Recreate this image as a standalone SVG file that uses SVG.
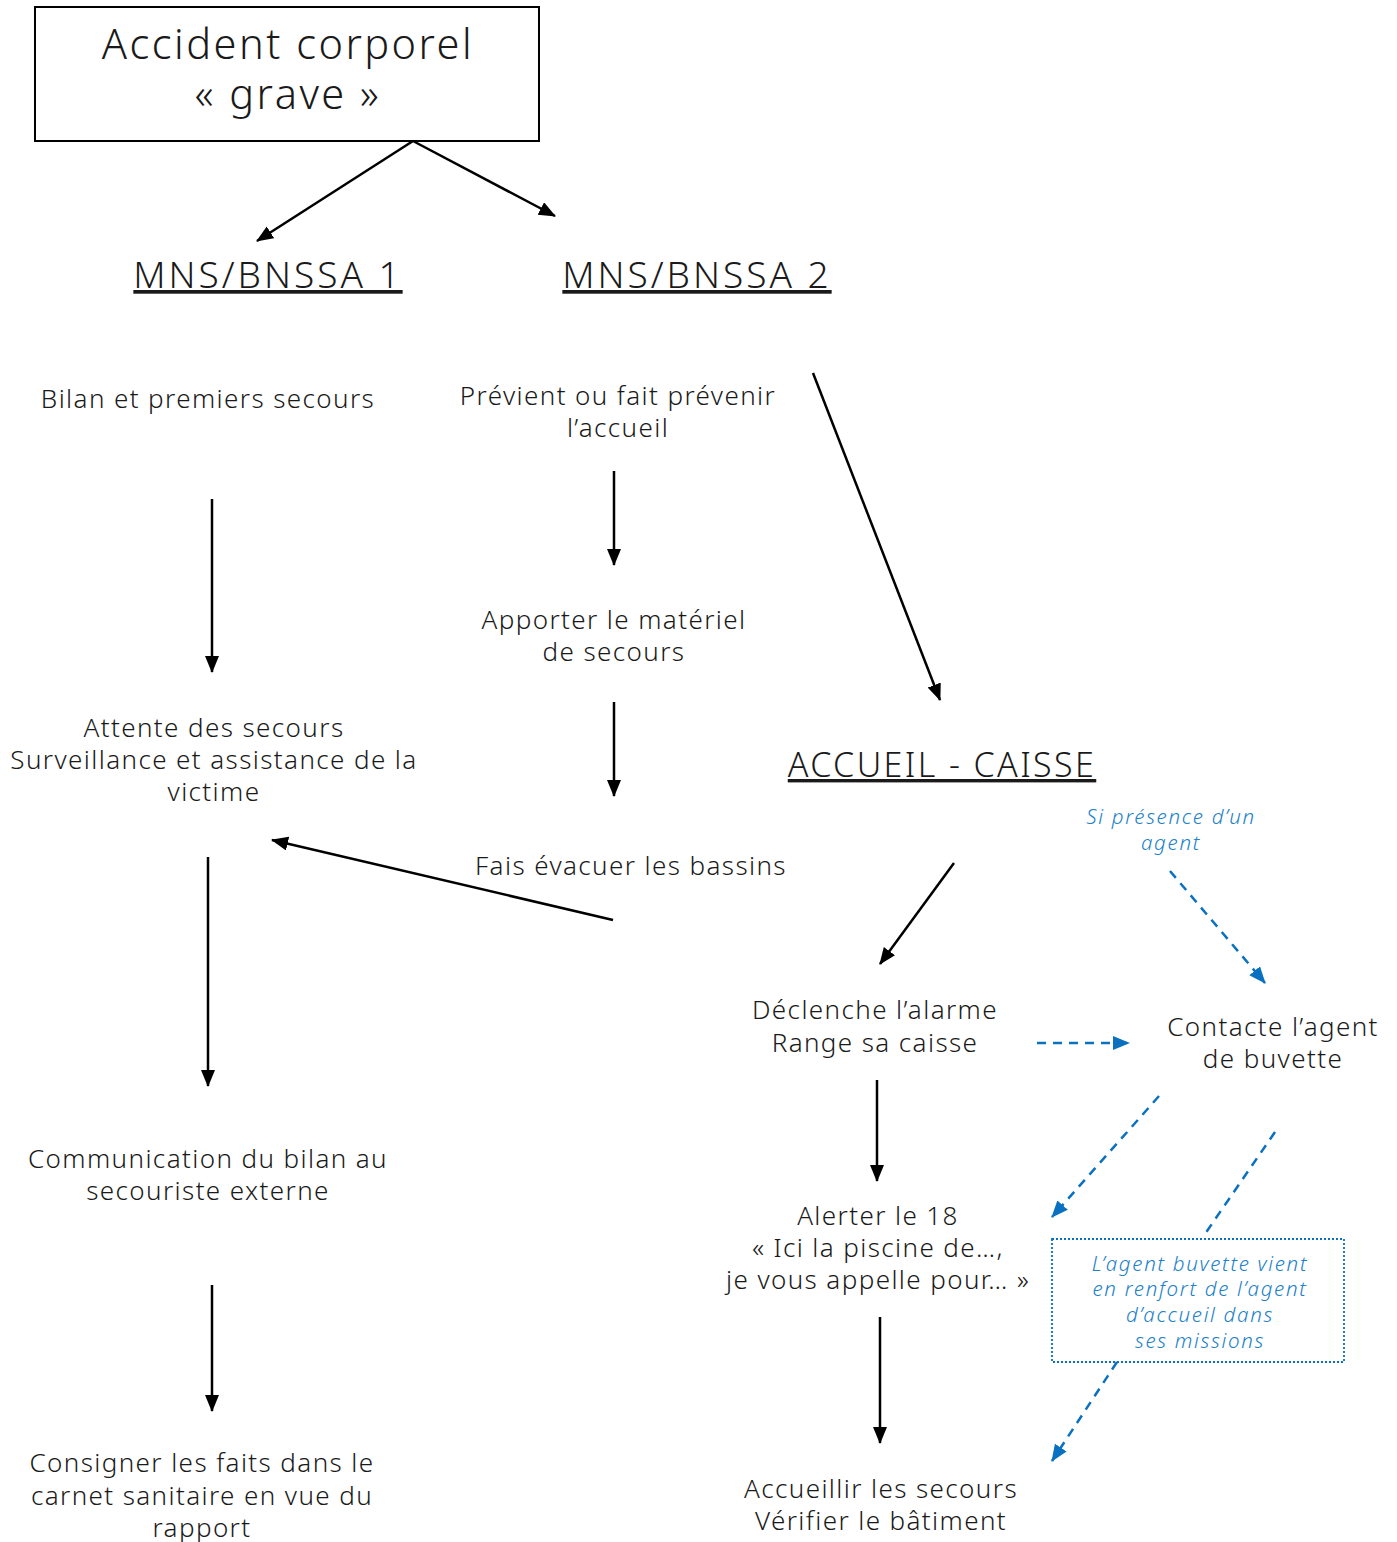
<svg xmlns="http://www.w3.org/2000/svg" width="1397" height="1542" viewBox="0 0 1397 1542">
<style>
text{font-family:"Noto Sans","Open Sans","Liberation Sans",sans-serif;fill:#1a1a1a;text-anchor:middle;font-weight:300}
.t{font-size:26px;letter-spacing:1.4px}
.h{font-size:37px;text-decoration:underline;letter-spacing:3px}
.title{font-size:41.5px;letter-spacing:2.5px}
.b{font-size:20.5px;fill:#2080c8;font-style:italic;letter-spacing:1.7px}
.k{stroke:#000;stroke-width:2.5;fill:none}
.d{stroke:#0a70c0;stroke-width:2.5;fill:none;stroke-dasharray:9 7}
</style>
<defs>
<marker id="ak" markerUnits="userSpaceOnUse" markerWidth="18" markerHeight="16" refX="16" refY="7" orient="auto"><path d="M0,0 L17,7 L0,14 Z" fill="#000"/></marker>
<marker id="ab" markerUnits="userSpaceOnUse" markerWidth="18" markerHeight="16" refX="16" refY="7" orient="auto"><path d="M0,0 L17,7 L0,14 Z" fill="#0a70c0"/></marker>
</defs>
<g id="connectors">
<line class="k" x1="413" y1="141" x2="257" y2="241" marker-end="url(#ak)"/>
<line class="k" x1="413" y1="141" x2="555" y2="216" marker-end="url(#ak)"/>
<line class="k" x1="813" y1="373" x2="940" y2="700" marker-end="url(#ak)"/>
<line class="k" x1="212" y1="499" x2="212" y2="672" marker-end="url(#ak)"/>
<line class="k" x1="614" y1="471" x2="614" y2="565" marker-end="url(#ak)"/>
<line class="k" x1="614" y1="702" x2="614" y2="796" marker-end="url(#ak)"/>
<line class="k" x1="613" y1="920" x2="272" y2="840" marker-end="url(#ak)"/>
<line class="k" x1="208" y1="857" x2="208" y2="1086" marker-end="url(#ak)"/>
<line class="k" x1="954" y1="863" x2="880" y2="964" marker-end="url(#ak)"/>
<line class="k" x1="877" y1="1080" x2="877" y2="1181" marker-end="url(#ak)"/>
<line class="k" x1="212" y1="1285" x2="212" y2="1411" marker-end="url(#ak)"/>
<line class="k" x1="880" y1="1317" x2="880" y2="1443" marker-end="url(#ak)"/>
<line class="d" x1="1170" y1="871" x2="1265" y2="983" marker-end="url(#ab)"/>
<line class="d" x1="1037" y1="1043" x2="1129" y2="1043" marker-end="url(#ab)"/>
<line class="d" x1="1159" y1="1096" x2="1052" y2="1217" marker-end="url(#ab)"/>
<line class="d" x1="1275" y1="1132" x2="1205" y2="1234"/>
<line class="d" x1="1117" y1="1362" x2="1052" y2="1461" marker-end="url(#ab)"/>
</g>
<g id="accident">
<rect x="35" y="7" width="504" height="134" fill="none" stroke="#000" stroke-width="2"/>
<text class="title" x="288" y="59">Accident corporel</text>
<text class="title" x="288" y="109">« grave »</text>
</g>
<g id="mns1"><text class="h" x="268" y="288">MNS/BNSSA 1</text></g>
<g id="mns2"><text class="h" x="697" y="288">MNS/BNSSA 2</text></g>
<g id="bilan"><text class="t" x="208" y="408">Bilan et premiers secours</text></g>
<g id="previent"><text class="t" x="618" y="405">Prévient ou fait prévenir</text><text class="t" x="618" y="437">l’accueil</text></g>
<g id="apporter"><text class="t" x="614" y="629">Apporter le matériel</text><text class="t" x="614" y="661">de secours</text></g>
<g id="attente"><text class="t" x="214" y="737">Attente des secours</text><text class="t" x="214" y="769">Surveillance et assistance de la</text><text class="t" x="214" y="801">victime</text></g>
<g id="accueil"><text class="h" x="942" y="777" style="font-size:34px;letter-spacing:2.4px">ACCUEIL - CAISSE</text></g>
<g id="si"><text class="b" x="1171" y="824">Si présence d’un</text><text class="b" x="1171" y="850">agent</text></g>
<g id="evacuer"><text class="t" x="631" y="875">Fais évacuer les bassins</text></g>
<g id="declenche"><text class="t" x="875" y="1019">Déclenche l’alarme</text><text class="t" x="875" y="1052">Range sa caisse</text></g>
<g id="contacte"><text class="t" x="1273" y="1036">Contacte l’agent</text><text class="t" x="1273" y="1068">de buvette</text></g>
<g id="communication"><text class="t" x="208" y="1168">Communication du bilan au</text><text class="t" x="208" y="1200">secouriste externe</text></g>
<g id="alerter"><text class="t" x="878" y="1225">Alerter le 18</text><text class="t" x="878" y="1257">« Ici la piscine de…,</text><text class="t" x="878" y="1289">je vous appelle pour… »</text></g>
<g id="renfort">
<rect x="1052" y="1239" width="292" height="123" fill="none" stroke="#0a70c0" stroke-width="1.8" stroke-dasharray="2 2"/>
<text class="b" x="1200" y="1271">L’agent buvette vient</text><text class="b" x="1200" y="1296">en renfort de l’agent</text><text class="b" x="1200" y="1322">d’accueil dans</text><text class="b" x="1200" y="1348">ses missions</text>
</g>
<g id="consigner"><text class="t" x="202" y="1472">Consigner les faits dans le</text><text class="t" x="202" y="1505">carnet sanitaire en vue du</text><text class="t" x="202" y="1537">rapport</text></g>
<g id="accueillir"><text class="t" x="881" y="1498">Accueillir les secours</text><text class="t" x="881" y="1530">Vérifier le bâtiment</text></g>
</svg>
